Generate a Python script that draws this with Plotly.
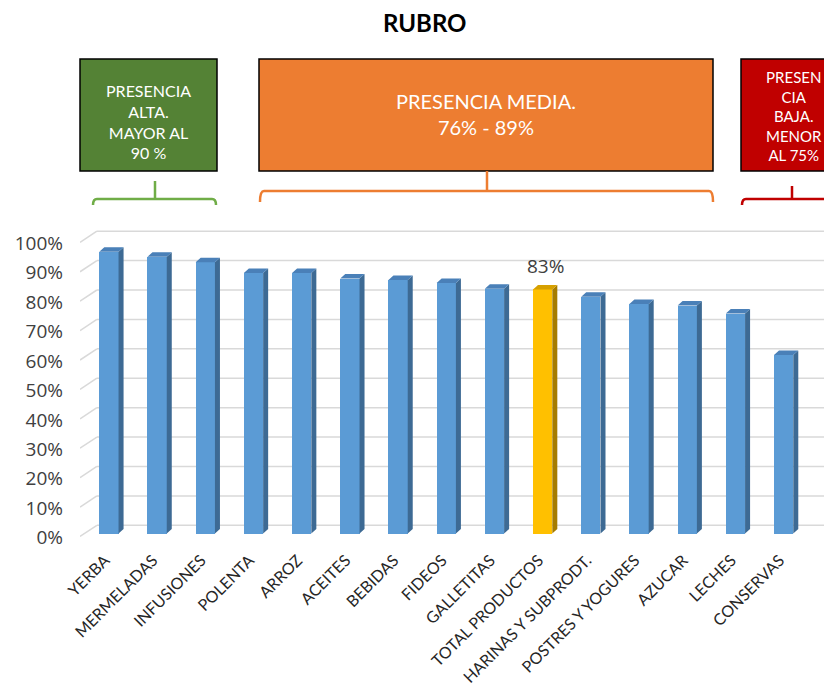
import plotly.graph_objects as go

# datos
rubros = ['YERBA', 'MERMELADAS', 'INFUSIONES', 'POLENTA', 'ARROZ', 'ACEITES', 'BEBIDAS',
          'FIDEOS', 'GALLETITAS', 'TOTAL PRODUCTOS', 'HARINAS Y SUBPRODT.',
          'POSTRES Y YOGURES', 'AZUCAR', 'LECHES', 'CONSERVAS']
presencia = [0.958, 0.941, 0.922, 0.886, 0.886, 0.867, 0.862, 0.852, 0.832, 0.83,
             0.805, 0.78, 0.775, 0.748, 0.607]
destacado = 'TOTAL PRODUCTOS'
ticks_y = [0, 0.1, 0.2, 0.3, 0.4, 0.5, 0.6, 0.7, 0.8, 0.9, 1.0]
ticks_y_txt = ['0%', '10%', '20%', '30%', '40%', '50%', '60%', '70%', '80%', '90%', '100%']

# geometria: la pagina agrega 8 px de margen al body
OFF = 8
W, H = 832 - OFF, 688 - OFF
ML, MR, MT, MB = 80 - OFF, 5, 225 - OFF, 143
X_RANGE = [-0.6, 14.9]
Y_RANGE = [-0.039, 1.049]
ANCHO = 0.40      # ancho de la cara frontal
DX, DY = 0.104, 0.0153   # profundidad de las barras 3D

AZUL = ('#5B9BD5', '#3D6A94', '#4A80B8')
ORO = ('#FFC000', '#A67C00', '#D6A000')


def px_to_paper(x, y):
    # x, y en pixeles de la pagina
    x, y = x - OFF, y - OFF
    return (x - ML) / (W - ML - MR), (H - MB - y) / (H - MT - MB)


xs = list(range(len(rubros)))
colores_frente = [ORO[0] if r == destacado else AZUL[0] for r in rubros]

fig = go.Figure()

# caras frontales
fig.add_trace(go.Bar(x=xs, y=presencia, width=ANCHO,
                     marker=dict(color=colores_frente, line=dict(width=0)),
                     hoverinfo='skip', showlegend=False))

# caras laterales y superiores
for paleta, es_oro in [(AZUL, False), (ORO, True)]:
    lx, ly, tx, ty = [], [], [], []
    for i, (r, v) in enumerate(zip(rubros, presencia)):
        if (r == destacado) != es_oro:
            continue
        d = i + ANCHO / 2
        iz = i - ANCHO / 2
        lx += [d, d + DX, d + DX, d, d, None]
        ly += [0, DY, v + DY, v, 0, None]
        tx += [iz, iz + DX, d + DX, d, iz, None]
        ty += [v, v + DY, v + DY, v, v, None]
    fig.add_trace(go.Scatter(x=lx, y=ly, fill='toself', fillcolor=paleta[1], mode='lines',
                             line=dict(width=0, color=paleta[1]), hoverinfo='skip',
                             showlegend=False))
    fig.add_trace(go.Scatter(x=tx, y=ty, fill='toself', fillcolor=paleta[2], mode='lines',
                             line=dict(width=0, color=paleta[2]), hoverinfo='skip',
                             showlegend=False))

# lineas de division en el plano de fondo
shapes = []
for t in ticks_y:
    shapes.append(dict(type='line', xref='x', yref='y', x0=-0.25, y0=t + 0.028,
                       x1=X_RANGE[1], y1=t + 0.028, layer='below',
                       line=dict(color='#D9D9D9', width=1.5)))
    shapes.append(dict(type='line', xref='x', yref='y', x0=-0.6, y0=t - 0.01,
                       x1=-0.25, y1=t + 0.028, layer='below',
                       line=dict(color='#D9D9D9', width=1.5)))

# cajas de rangos
cajas = [
    (80, 217, 148, 121, '#548235', 'PRESENCIA<br>ALTA.<br>MAYOR AL<br>90 %', 16),
    (259, 713, 486, 114, '#ED7D31', 'PRESENCIA MEDIA.<br>76% - 89%', 20),
    (741, 860, 794, 116, '#C00000', 'PRESEN<br>CIA<br>BAJA.<br>MENOR<br>AL 75%', 15),
]
annotations = []
for x0, x1, cx, cy, col, txt, fs in cajas:
    a0, b0 = px_to_paper(x0, 59)
    a1, b1 = px_to_paper(x1, 171)
    shapes.append(dict(type='rect', xref='paper', yref='paper', x0=a0, y0=b1, x1=a1, y1=b0,
                       fillcolor=col, line=dict(color='black', width=1.5)))
    ax, ay = px_to_paper(cx, cy)
    annotations.append(dict(xref='paper', yref='paper', x=ax, y=ay, text=txt,
                            showarrow=False, xanchor='center', yanchor='middle',
                            font=dict(family='Lato', size=fs, color='white')))


def llave(stem_x, stem_top, y, x_izq, x_der, color, baja=6):
    sx, st = px_to_paper(stem_x, stem_top)
    _, sy = px_to_paper(stem_x, y)
    path = f'M {sx},{st} L {sx},{sy} '
    a, by = px_to_paper(x_izq, y + baja)
    b, _ = px_to_paper(x_izq + 4, y)
    c, _ = px_to_paper(x_der - 4, y)
    d, _ = px_to_paper(x_der, y + baja)
    e, _ = px_to_paper(x_izq, y)
    f, _ = px_to_paper(x_der, y)
    path += f'M {a},{by} Q {e},{sy} {b},{sy} L {c},{sy} Q {f},{sy} {d},{by}'
    return dict(type='path', xref='paper', yref='paper', path=path,
                line=dict(color=color, width=2.5))


shapes.append(llave(155, 181, 199, 93, 216, '#70AD47'))
shapes.append(llave(487, 171, 191, 260, 713, '#ED7D31', baja=11))
shapes.append(llave(792, 186, 199, 742, 880, '#C00000'))

# etiqueta del total
i_tot = rubros.index(destacado)
annotations.append(dict(x=i_tot + DX / 2, y=presencia[i_tot], text=f'{presencia[i_tot]:.0%}',
                        showarrow=False, yanchor='bottom', yshift=8,
                        font=dict(family='Open Sans', size=19, color='#404040')))

# titulo como anotacion
tx_, ty_ = px_to_paper(425, 22)
annotations.append(dict(xref='paper', yref='paper', x=tx_, y=ty_, text='<b>RUBRO</b>',
                        showarrow=False, xanchor='center', yanchor='middle',
                        font=dict(family='Lato', size=24, color='black')))

fig.update_layout(
    width=W, height=H,
    margin=dict(l=ML, r=MR, t=MT, b=MB),
    plot_bgcolor='white', paper_bgcolor='white',
    xaxis=dict(range=X_RANGE, tickvals=xs, ticktext=rubros, tickangle=-45,
               showgrid=False, zeroline=False, showline=False, ticks='',
               ticklabelshift=-4, ticklabelstandoff=2, automargin=False,
               tickfont=dict(family='Lato', size=16, color='#262626')),
    yaxis=dict(range=Y_RANGE, tickvals=ticks_y, ticktext=ticks_y_txt, showgrid=False,
               zeroline=False, showline=False, ticks='', ticklabelstandoff=16,
               ticklabelshift=4, automargin=False,
               tickfont=dict(family='Open Sans', size=19, color='#404040')),
    shapes=shapes,
    annotations=annotations,
    showlegend=False,
    bargap=0,
)

fig.write_html('out.html')
